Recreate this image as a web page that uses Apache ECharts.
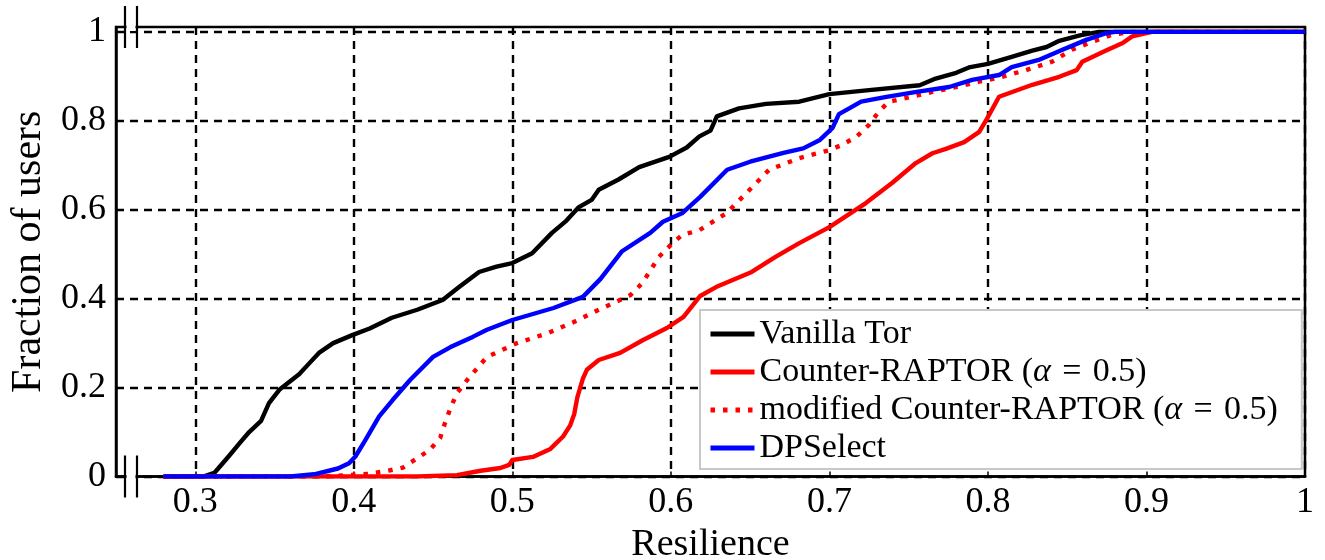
<!DOCTYPE html>
<html>
<head>
<meta charset="utf-8">
<script src="https://cdn.jsdelivr.net/npm/echarts@6/dist/echarts.min.js"></script>
<style>
html,body{margin:0;padding:0;background:#fff;}
#chart{width:1325px;height:560px;}
</style>
</head>
<body>
<div id="chart"></div>
<script>
// ---- data ----
const seriesNames = ["Vanilla Tor", "Counter-RAPTOR (α = 0.5)", "modified Counter-RAPTOR (α = 0.5)", "DPSelect"];

const xVanilla = [0.28,0.305,0.312,0.321,0.328,0.334,0.3415,0.3465,0.353,0.3655,0.372,0.378,0.387,0.399,0.41,0.424,0.44,0.456,0.466,0.479,0.49,0.5,0.5125,0.525,0.534,0.542,0.55,0.5545,0.567,0.58,0.599,0.61,0.618,0.625,0.629,0.643,0.66,0.681,0.7,0.725,0.757,0.767,0.78,0.788,0.8,0.815,0.828,0.837,0.845,0.858,0.87,1.0];
const yVanilla = [0,0,0.008,0.045,0.075,0.1,0.125,0.165,0.195,0.23,0.255,0.278,0.3,0.318,0.333,0.357,0.375,0.397,0.425,0.46,0.472,0.48,0.502,0.548,0.575,0.606,0.622,0.645,0.668,0.696,0.719,0.74,0.765,0.778,0.81,0.828,0.838,0.843,0.86,0.869,0.88,0.895,0.908,0.92,0.928,0.944,0.958,0.966,0.98,0.992,1.0,1.0];

const xRaptor = [0.28,0.44,0.465,0.48,0.4925,0.498,0.5,0.513,0.524,0.532,0.5365,0.539,0.541,0.5445,0.547,0.5545,0.568,0.5825,0.5975,0.608,0.6185,0.6285,0.651,0.666,0.681,0.7,0.723,0.7395,0.7545,0.765,0.7735,0.785,0.7945,0.799,0.807,0.828,0.845,0.856,0.8595,0.8745,0.885,0.891,0.9035,1.0];
const yRaptor = [0,0,0.003,0.013,0.019,0.026,0.037,0.044,0.062,0.09,0.115,0.14,0.178,0.22,0.24,0.262,0.278,0.307,0.334,0.359,0.406,0.426,0.46,0.494,0.525,0.561,0.615,0.66,0.705,0.727,0.737,0.752,0.775,0.802,0.854,0.881,0.899,0.914,0.933,0.958,0.975,0.99,1.0,1.0];

const xModified = [0.28,0.38,0.41,0.423,0.431,0.44,0.448,0.4545,0.4575,0.461,0.465,0.4715,0.484,0.503,0.522,0.5385,0.5545,0.5745,0.582,0.5925,0.6,0.607,0.618,0.635,0.6475,0.662,0.681,0.7,0.708,0.717,0.725,0.731,0.7375,0.748,0.765,0.7775,0.7945,0.807,0.824,0.8405,0.853,0.866,0.878,0.89,1.0];
const yModified = [0,0,0.006,0.014,0.02,0.041,0.06,0.087,0.12,0.154,0.187,0.217,0.269,0.3,0.322,0.347,0.375,0.408,0.435,0.494,0.521,0.543,0.554,0.592,0.637,0.69,0.716,0.734,0.746,0.764,0.791,0.82,0.843,0.851,0.865,0.874,0.888,0.897,0.914,0.933,0.96,0.978,0.993,1.0,1.0];

const xDPSelect = [0.28,0.36,0.375,0.39,0.397,0.401,0.407,0.416,0.4245,0.4355,0.45,0.461,0.475,0.484,0.5,0.526,0.5445,0.5555,0.569,0.587,0.595,0.607,0.6185,0.6355,0.65,0.671,0.6835,0.694,0.702,0.706,0.7125,0.72,0.736,0.755,0.7755,0.79,0.807,0.815,0.832,0.847,0.862,0.8745,0.88,1.0];
const yDPSelect = [0,0,0.005,0.018,0.03,0.045,0.08,0.135,0.172,0.217,0.269,0.291,0.314,0.33,0.352,0.379,0.404,0.444,0.506,0.548,0.573,0.592,0.629,0.69,0.708,0.728,0.738,0.757,0.784,0.815,0.828,0.843,0.854,0.865,0.876,0.892,0.903,0.921,0.937,0.96,0.982,0.997,1.0,1.0];

const xTicks = [0.3,0.4,0.5,0.6,0.7,0.8,0.9,1.0];
const yTicks = [0,0.2,0.4,0.6,0.8,1.0];

// ---- chart ----
const FONT = "'Liberation Serif', 'DejaVu Serif', serif";
const zip = (xs, ys) => xs.map((x, i) => [x, ys[i]]);
const fmt = v => (Math.abs(v) < 1e-9 ? '0' : Math.abs(v - 1) < 1e-9 ? '1' : v.toFixed(1));

const GRID = {left:116, right:20, top:27, bottom:83.5};

const chart = echarts.init(document.getElementById('chart'), null, {renderer:'canvas'});

const dash = {type:[8,6], color:'#000', width:2.4};

function lineSeries(name, xs, ys, color, type, z) {
  return {
    name: name, type: 'line', data: zip(xs, ys), symbol: 'none', smooth: false,
    lineStyle: {color: color, width: 4.4, type: type, cap: 'butt', join:'round'},
    itemStyle: {color: color},
    z: z, animation: false
  };
}

const breakGroup = (cy) => ({
  type: 'group',
  children: [
    {type:'rect', shape:{x:126.5, y:cy-4, width:9, height:8}, style:{fill:'#fff'}, z:100},
    {type:'line', shape:{x1:125, y1:cy-21, x2:125, y2:cy+21}, style:{stroke:'#000', lineWidth:2.2}, z:101},
    {type:'line', shape:{x1:137, y1:cy-21, x2:137, y2:cy+21}, style:{stroke:'#000', lineWidth:2.2}, z:101}
  ]
});

chart.setOption({
  backgroundColor: '#fff',
  animation: false,
  textStyle: {fontFamily: FONT},
  grid: Object.assign({show:true, borderColor:'#000', borderWidth:2.5, backgroundColor:'transparent',
    containLabel:false, outerBoundsMode:'none'}, GRID),
  xAxis: {
    type: 'value', min: 0.25, max: 1.0,
    name: 'Resilience', nameLocation: 'middle', nameGap: 50,
    nameTextStyle: {fontFamily: FONT, fontSize: 38, color: '#000'},
    axisLine: {show:true, lineStyle:{color:'#000', width:2.5}},
    axisTick: {show:true, inside:true, length:5, lineStyle:{color:'#000', width:1.5}, customValues: xTicks},
    axisLabel: {customValues: xTicks, formatter: fmt, fontFamily: FONT, fontSize: 36, color:'#000', margin: 8},
    splitLine: {show:true, lineStyle: dash}
  },
  yAxis: {
    type: 'value', min: 0, max: 1.011,
    name: 'Fraction of users', nameLocation: 'middle', nameGap: 65,
    nameTextStyle: {fontFamily: FONT, fontSize: 42, color: '#000'},
    axisLine: {show:true, lineStyle:{color:'#000', width:2.5}},
    axisTick: {show:true, inside:true, length:5, lineStyle:{color:'#000', width:1.5}, customValues: yTicks},
    axisLabel: {customValues: yTicks, formatter: fmt, fontFamily: FONT, fontSize: 36, color:'#000', margin: 10},
    splitLine: {show:true, lineStyle: dash}
  },
  legend: {
    orient: 'vertical', left: 700, top: 310,
    padding: [7, 24, 4, 8], itemGap: 4, itemWidth: 44, itemHeight: 12,
    backgroundColor: '#fff', borderColor: '#c8c8c8', borderWidth: 2, borderRadius: 0,
    data: seriesNames,
    itemStyle: {opacity: 0},
    lineStyle: {width: 5},
    formatter: n => n.replace('α', '{i|α}').replace(' = ', '\u2004=\u2004'),
    textStyle: {fontFamily: FONT, fontSize: 34, color: '#000',
      rich: {i: {fontFamily: FONT, fontSize: 34, fontStyle: 'italic', color:'#000'}}},
    z: 50
  },
  series: [
    lineSeries(seriesNames[0], xVanilla, yVanilla, '#000000', 'solid', 3),
    lineSeries(seriesNames[1], xRaptor, yRaptor, '#ff0000', 'solid', 4),
    lineSeries(seriesNames[2], xModified, yModified, '#ff0000', [4.5, 8], 5),
    lineSeries(seriesNames[3], xDPSelect, yDPSelect, '#0000ff', 'solid', 6)
  ],
  graphic: [breakGroup(27), breakGroup(476.5)]
});
</script>
</body>
</html>
